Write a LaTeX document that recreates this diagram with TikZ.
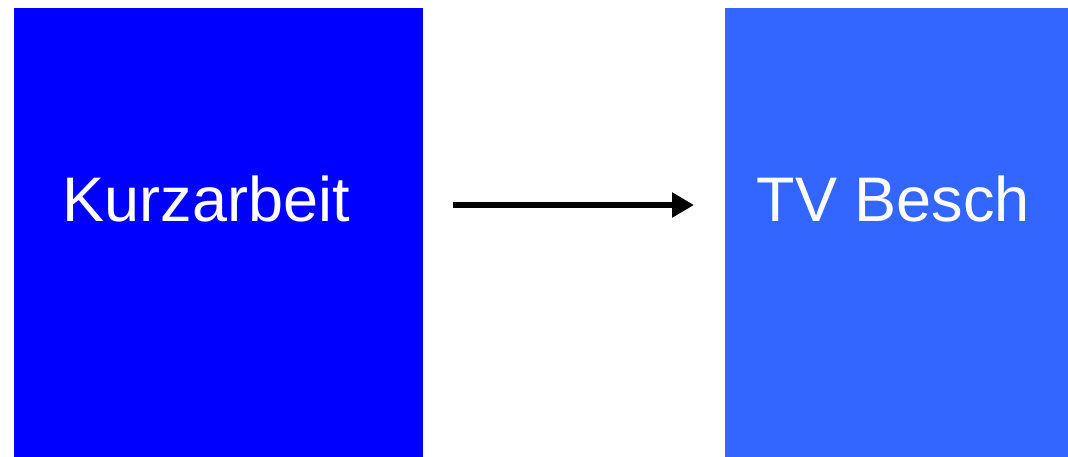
\documentclass[tikz,border=0pt]{standalone}
\usepackage{fontspec}
\setmainfont{Liberation Sans}
\usetikzlibrary{arrows.meta}
\definecolor{boxblue}{HTML}{0000FF}
\definecolor{boxlight}{HTML}{3366FF}
\begin{document}
\begin{tikzpicture}[x=1pt,y=-1pt,
  panel/.style={draw=none,inner sep=0pt,outer sep=0pt,minimum height=449pt},
  caption/.style={text=white,font=\fontsize{63}{70}\selectfont,anchor=base,inner sep=0pt},
  flow/.style={line width=6pt,-{Triangle[length=22pt,width=24pt]}}]
\useasboundingbox (0,0) rectangle (1068,457);
\node[panel,fill=boxblue,minimum width=409pt] (kurz) at (218.5,232.5) {};
\node[panel,fill=boxlight,minimum width=343pt] (tv) at (896.5,232.5) {};
\node[caption] (kurzt) at (206.5,222) {Kurzarbeit};
\node[caption] (tvt) at (893.5,222) {TV Besch};
\coordinate (a) at (kurz.east |- 0,205);
\coordinate (b) at (tv.west |- 0,205);
\draw[flow,shorten <=30pt,shorten >=31pt] (a) -- (b);
\end{tikzpicture}
\end{document}
